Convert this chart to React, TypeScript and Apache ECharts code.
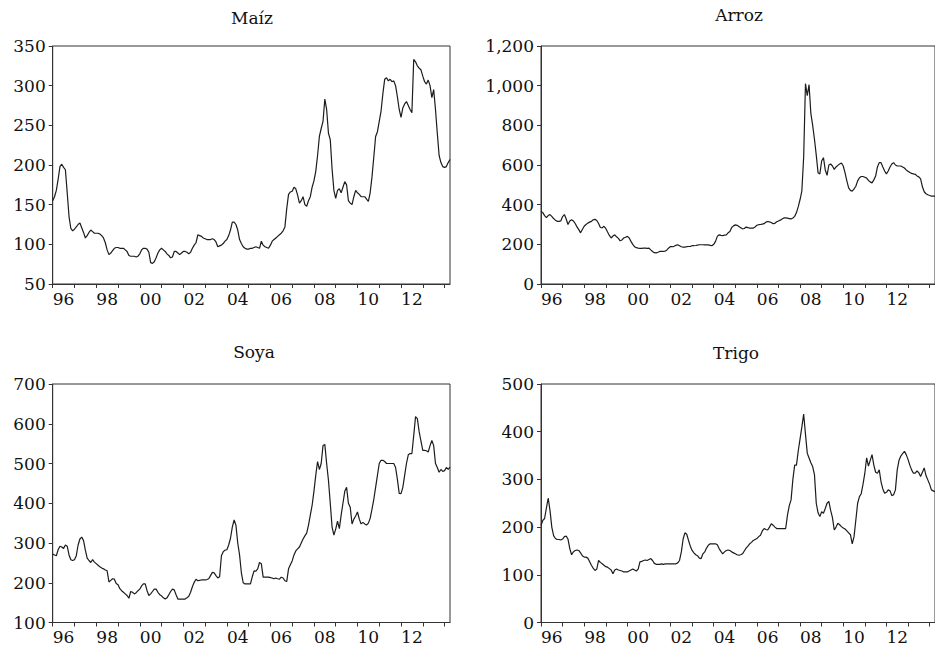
import React, { useEffect, useRef } from "react";
import * as echarts from "echarts";

// Monthly series, Jan 1996 .. Apr 2014
const maiz = [
  155, 160, 168, 182, 198, 201, 197, 194, 165, 135, 120, 117,
  119, 122, 125, 127, 121, 115, 108, 111, 115, 118, 116, 114,
  114, 114, 113, 111, 108, 102, 93, 87, 89, 92, 95, 96,
  96, 95, 95, 95, 93, 91, 86, 85, 85, 85, 84, 85,
  88, 93, 95, 95, 94, 90, 77, 76, 78, 83, 89, 93,
  95, 93, 91, 88, 86, 83, 84, 91, 91, 89, 87, 89,
  91, 91, 90, 88, 90, 95, 99, 102, 112, 111, 110, 108,
  107, 106, 106, 106, 107, 106, 103, 97, 98, 99, 101, 104,
  106, 111, 118, 128, 128, 125, 118, 106, 101, 97, 95, 94,
  94, 95, 95, 96, 97, 96, 95, 104, 99, 97, 96, 95,
  99, 104, 106, 108, 110, 112, 114, 117, 122, 145, 163, 166,
  167, 172, 170, 162, 152, 155, 160, 150, 148, 155, 160, 172,
  180, 192, 212, 236, 246, 255, 283, 270, 240, 232, 195, 168,
  158, 168, 170, 165, 172, 179, 175, 155, 152, 150, 160, 168,
  165, 163, 160, 160, 160, 157, 154, 165, 185, 210, 236, 242,
  255, 268, 290, 308, 310, 306, 308, 305, 306, 300, 286, 270,
  260, 272, 277, 280, 275, 270, 266, 333, 330, 325, 322, 320,
  312, 305, 302, 307, 300, 285, 295, 270, 240, 212, 203, 198,
  197, 198, 203, 207,
];

const arroz = [
  367, 360, 345, 335, 345, 350, 341, 330, 322, 316, 316, 318,
  340, 350, 328, 300, 318, 324, 318, 305, 288, 274, 258, 275,
  291, 300, 307, 312, 316, 324, 326, 320, 305, 285, 283, 291,
  280, 262, 245, 232, 242, 248, 238, 230, 218, 222, 232, 236,
  240, 232, 215, 200, 188, 183, 181, 180, 180, 181, 181, 180,
  181, 172, 164, 158, 157, 160, 164, 164, 164, 166, 172, 182,
  189, 188, 190, 195, 198, 193, 188, 186, 186, 188, 189, 190,
  193, 193, 194, 196, 198, 198, 198, 197, 198, 197, 195, 193,
  200, 215, 240, 248, 245, 244, 246, 248, 258, 265, 285, 293,
  298, 296, 290, 284, 278, 280, 287, 284, 282, 282, 282, 288,
  296, 299, 300, 302, 304, 312, 315, 313, 310, 304, 306, 314,
  318, 322, 328, 333, 333, 332, 330, 328, 333, 341, 360, 390,
  426, 470, 640, 1010, 950, 1005, 860, 800, 730, 650, 561, 555,
  620, 637, 575, 548, 600, 605, 595, 578, 590, 598, 605, 610,
  595, 560, 520, 485, 472, 468, 480, 493, 520, 536, 542, 542,
  538, 534, 522, 515, 510, 525, 544, 590, 612, 612, 590, 570,
  555, 570, 590, 605, 612, 600, 595, 595, 595, 590, 585, 575,
  568, 562, 558, 555, 553, 545, 540, 530, 490, 465, 455, 450,
  446, 443, 443, 443,
];

const soya = [
  272, 270, 268, 283, 292, 290, 286, 295, 292, 270, 258, 256,
  258, 268, 295, 310, 315, 306, 282, 262, 256, 251, 258, 252,
  248, 244, 240, 237, 235, 232, 230, 202, 206, 210, 209, 198,
  195, 185, 180, 176, 172, 168, 161, 178, 176, 172, 175, 180,
  184, 192, 197, 197, 180, 168, 172, 178, 184, 184, 176, 170,
  167, 162, 159, 162, 170, 178, 184, 182, 170, 159, 159, 159,
  159, 159, 162, 166, 176, 190, 201, 209, 205, 206, 207, 207,
  207, 208, 210, 218, 226, 225, 218, 212, 215, 268, 278, 282,
  283, 295, 312, 340, 358, 345, 300, 270, 225, 200, 197, 197,
  197, 197, 215, 230, 229, 235, 251, 248, 214, 214, 214, 214,
  213, 212, 210, 212, 210, 209, 214, 212, 205, 203, 235, 245,
  255, 270, 280, 285, 290, 300, 310, 318, 325, 345, 370, 395,
  430, 470, 505, 485, 500, 545, 548, 500, 458, 400, 340, 320,
  335, 355, 336, 370, 400, 430, 440, 400, 390, 348, 360, 368,
  378, 360, 348, 352, 348, 345, 350, 362, 385, 410, 440, 470,
  500, 508, 508, 505, 500, 500, 500, 500, 500, 490, 460, 425,
  424, 440, 470, 500, 522, 525, 525, 570, 618, 613, 580, 556,
  533, 533, 532, 529, 545, 558, 545, 500, 490, 478, 485, 480,
  482, 490, 485, 491,
];

const trigo = [
  204, 214, 218, 240, 261, 235, 200, 182, 176, 174, 174, 173,
  175, 180, 181, 175, 155, 142, 148, 151, 152, 151, 146, 140,
  137, 137, 135, 128, 120, 114, 109, 112, 130, 126, 123, 120,
  117, 116, 113, 110, 102, 110, 112, 110, 109, 108, 106, 106,
  106, 108, 110, 112, 110, 108, 112, 127, 128, 130, 131, 130,
  132, 134, 130, 124, 122, 122, 122, 123, 122, 123, 123, 123,
  123, 123, 123, 123, 125, 130, 148, 175, 188, 185, 172, 160,
  151, 146, 142, 140, 135, 134, 144, 148, 156, 162, 165, 165,
  165, 165, 163, 155, 149, 144, 148, 151, 152, 151, 148, 146,
  144, 142, 141, 142, 144, 150, 156, 160, 165, 168, 172, 174,
  176, 180, 183, 192, 197, 195, 194, 200, 207, 204, 200, 197,
  197, 197, 197, 197, 197, 225, 245, 257, 300, 330, 330, 360,
  385, 410, 437, 395, 355, 345, 335, 327, 310, 250, 230, 222,
  232, 229, 239, 250, 254, 235, 220, 194, 200, 208, 205, 201,
  198, 196, 192, 188, 184, 165, 180, 215, 250, 264, 270, 290,
  313, 345, 328, 340, 352, 330, 315, 313, 320, 295, 280, 271,
  273, 278, 276, 266, 268, 278, 320, 340, 349, 354, 359, 352,
  342, 330, 320, 313, 313, 318, 314, 306, 315, 324, 308, 299,
  290, 278, 276, 274,
];

const titles = ["Maíz", "Arroz", "Soya", "Trigo"];
const yMin = [50, 0, 100, 0];
const yMax = [350, 1200, 700, 500];
const yStep = [50, 200, 100, 100];
const xLabels = ["96", "98", "00", "02", "04", "06", "08", "10", "12"];
const labelYears = [1996.5, 1998.5, 2000.5, 2002.5, 2004.5, 2006.5, 2008.5, 2010.5, 2012.5];
const tickYears = [1996, 1997, 1998, 1999, 2000, 2001, 2002, 2003, 2004, 2005, 2006, 2007, 2008, 2009, 2010, 2011, 2012, 2013, 2014];
const startYear = 1996;
const endYear = 2014.25;

const FONT = "'DejaVu Serif', serif";
const FS = 17;
const INK = "#111";

export default function App() {
  const ref = useRef<HTMLDivElement>(null);
  useEffect(() => {
    if (!ref.current) return;
    const chart = echarts.init(ref.current, undefined, { renderer: "svg" });
    const seriesData = [maiz, arroz, soya, trigo];
    const grids = [
      { left: 52.7, top: 46, right: 485, bottom: 367 },
      { left: 541, top: 46, right: -3, bottom: 367 },
      { left: 52.7, top: 384, right: 485, bottom: 28.5 },
      { left: 541, top: 384, right: -3, bottom: 28.5 },
    ];
    const titlePos = [
      [252, 18],
      [739, 15],
      [254, 352],
      [736, 353],
    ];
    const option: any = {
      animation: false,
      backgroundColor: "#fff",
      grid: grids.map((g) => ({
        ...g,
        show: true,
        borderColor: "#333",
        borderWidth: 1,
        containLabel: false,
      })),
      xAxis: grids.map((_, i) => ({
        type: "value",
        gridIndex: i,
        min: startYear,
        max: endYear,
        axisLine: { show: true, lineStyle: { color: "#333", width: 1 } },
        axisTick: {
          show: true,
          inside: false,
          length: 4,
          customValues: tickYears,
          lineStyle: { color: "#333" },
        },
        axisLabel: {
          show: true,
          customValues: labelYears,
          margin: 6,
          color: INK,
          fontFamily: FONT,
          fontSize: FS,
          formatter: (v: number) => {
            const idx = labelYears.findIndex((y) => Math.abs(y - v) < 0.01);
            return idx >= 0 ? xLabels[idx] : "";
          },
        },
        splitLine: { show: false },
      })),
      yAxis: grids.map((_, i) => ({
        type: "value",
        gridIndex: i,
        min: yMin[i],
        max: yMax[i],
        interval: yStep[i],
        axisLine: { show: true, lineStyle: { color: "#333", width: 1 } },
        axisTick: { show: true, inside: false, length: 4, lineStyle: { color: "#333" } },
        axisLabel: {
          margin: 7,
          color: INK,
          fontFamily: FONT,
          fontSize: FS,
          formatter: (v: number) => v.toLocaleString("en-US"),
        },
        splitLine: { show: false },
      })),
      series: seriesData.map((d, i) => ({
        type: "line",
        xAxisIndex: i,
        yAxisIndex: i,
        showSymbol: false,
        symbol: "none",
        lineStyle: { color: "#1c1c1c", width: 1.2 },
        data: d.map((v, k) => [startYear + k / 12, v]),
      })),
      graphic: titles.map((t, i) => ({
        type: "text",
        x: titlePos[i][0],
        y: titlePos[i][1],
        style: {
          text: t,
          fontFamily: FONT,
          fontSize: FS,
          fill: INK,
          align: "center",
          verticalAlign: "middle",
        },
      })),
    };
    chart.setOption(option);
    return () => chart.dispose();
  }, []);
  return (
    <div
      ref={ref}
      style={{ position: "fixed", left: 0, top: 0, width: 935, height: 651, background: "#fff" }}
    />
  );
}
